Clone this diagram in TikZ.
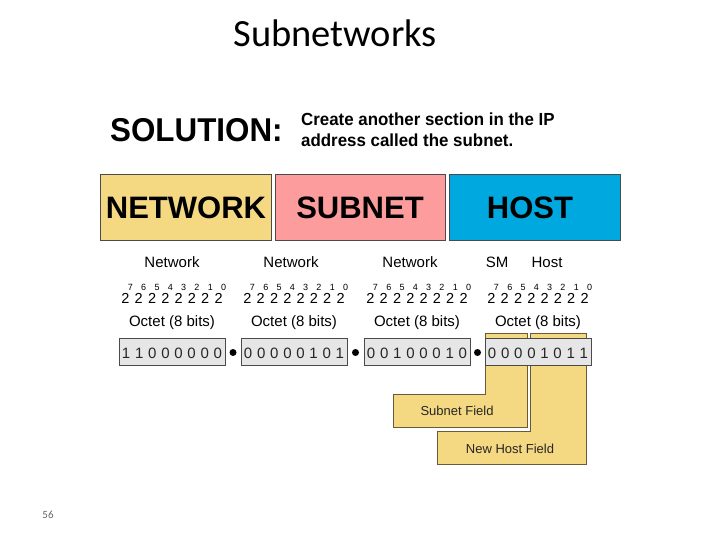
\documentclass[tikz,border=0pt]{standalone}
\usepackage{fontspec}
\setmainfont{Liberation Sans}
\newfontfamily\titlefont{Carlito}
\definecolor{netyellow}{HTML}{F4D882}
\definecolor{subpink}{HTML}{FC9C9C}
\definecolor{hostblue}{HTML}{00A8E0}
\definecolor{bitgrey}{HTML}{E6E6E6}
\definecolor{edgegrey}{HTML}{4A4A4A}
\definecolor{fieldedge}{HTML}{6B5A3A}
\tikzset{
  bigbox/.style={draw=edgegrey, line width=1pt, minimum height=65pt, inner sep=0pt,
    font=\bfseries\fontsize{31}{31}\selectfont},
  bitbox/.style={draw=edgegrey, fill=bitgrey, line width=0.8pt, minimum width=106pt, minimum height=27pt, inner sep=0pt},
  lbl/.style={anchor=base, font=\fontsize{15}{15}\selectfont},
  two/.style={anchor=base, inner sep=0pt, font=\fontsize{14.5}{14.5}\selectfont},
  expo/.style={anchor=base, inner sep=0pt, font=\fontsize{9}{9}\selectfont},
  digit/.style={anchor=base, inner sep=0pt, font=\fontsize{15}{15}\selectfont, text=black!85},
  sep/.style={circle, fill=black, inner sep=0pt, minimum size=7pt},
  field/.style={fill=netyellow, draw=fieldedge, line width=1pt, line join=miter},
  fieldtext/.style={anchor=base, font=\fontsize{13}{13}\selectfont, text=black!85}
}
\begin{document}
\begin{tikzpicture}[x=1pt,y=-1pt]
\useasboundingbox (0,0) rectangle (720,540);
\fill[white] (0,0) rectangle (720,540);

% title
\node[anchor=base, font=\titlefont\fontsize{38.5}{38.5}\selectfont] (title) at (335,47) {Subnetworks};

% solution
\node[anchor=base west, inner sep=0pt, font=\bfseries\fontsize{33}{33}\selectfont, xscale=0.95] (sol) at (110,142) {SOLUTION:};
\node[anchor=base west, inner sep=0pt, font=\bfseries\fontsize{17.5}{17.5}\selectfont, xscale=0.965] (sol1) at (301,126) {Create another section in the IP};
\node[anchor=base west, inner sep=0pt, font=\bfseries\fontsize{17.5}{17.5}\selectfont, xscale=0.965] (sol2) at (301,147) {address called the subnet.};

% big boxes
\node[bigbox, fill=netyellow, minimum width=171pt] (net) at (186,207.5) {NETWORK};
\node[bigbox, fill=subpink, minimum width=170pt] (sub) at (360,207.5) {SUBNET};
\node[bigbox, fill=hostblue, minimum width=171pt] (host) at (534.5,207.5) {};
\node[font=\bfseries\fontsize{31}{31}\selectfont, inner sep=0pt] (hosttext) at (530,207.5) {HOST};

% column labels
\node[lbl] (l1) at (172,267) {Network};
\node[lbl] (l2) at (291,267) {Network};
\node[lbl] (l3) at (410,267) {Network};
\node[lbl] (l4a) at (497,267) {SM};
\node[lbl] (l4b) at (547,267) {Host};

% powers and octet labels
\foreach \cx [count=\c] in {172,294,417,538} {
  \foreach \e [count=\i] in {7,6,5,4,3,2,1,0} {
    \node[two] (two-\c-\i) at ({\cx+(\i-4.5)*13.3},303) {2};
    \node[expo] (exp-\c-\i) at ({\cx+(\i-4.5)*13.3+5},290) {\e};
  }
  \node[lbl] (oct-\c) at (\cx,326) {Octet (8 bits)};
}

% field L-shapes
\draw[field] (485,333) -- (527,333) -- (527,427) -- (393,427) -- (393,394) -- (485,394) -- cycle;
\draw[field] (530,333) -- (586,333) -- (586,464) -- (437,464) -- (437,431) -- (530,431) -- cycle;
\node[fieldtext] (sf) at (457,415) {Subnet Field};
\node[fieldtext] (nhf) at (510,453) {New Host Field};

% binary boxes
\node[bitbox] (b1) at (172,351.5) {};
\node[bitbox] (b2) at (294,351.5) {};
\node[bitbox] (b3) at (417,351.5) {};
\node[bitbox] (b4) at (538,351.5) {};
\node[sep] (dot1) at (233,352.5) {};
\node[sep] (dot2) at (355.5,352.5) {};
\node[sep] (dot3) at (477.5,352.5) {};

\foreach \cx/\bits [count=\c] in {172/{1,1,0,0,0,0,0,0}, 294/{0,0,0,0,0,1,0,1}, 417/{0,0,1,0,0,0,1,0}, 538/{0,0,0,0,1,0,1,1}} {
  \foreach \d [count=\i] in \bits {
    \node[digit] (bit-\c-\i) at ({\cx+(\i-4.5)*13.1},358) {\d};
  }
}

% page number
\node[anchor=base, font=\titlefont\fontsize{11}{11}\selectfont, text=black!60] (pg) at (48,518) {56};
\end{tikzpicture}
\end{document}
